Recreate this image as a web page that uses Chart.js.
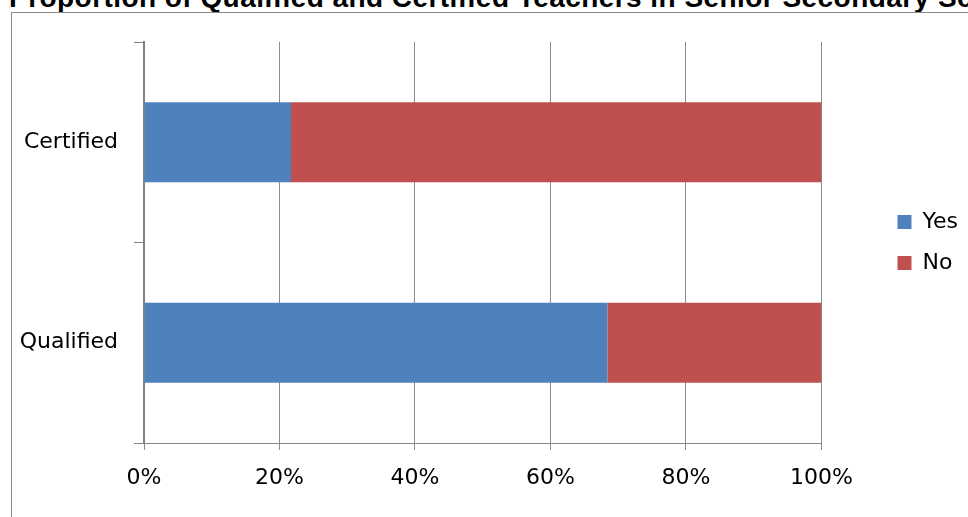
<!DOCTYPE html>
<html>
<head>
<meta charset="utf-8">
<script src="https://cdn.jsdelivr.net/npm/chart.js@4.4.0/dist/chart.umd.min.js"></script>
<style>
    html, body { margin: 0; padding: 0; background: #fff; overflow: hidden; }
    #marco { position: absolute; left: 0; top: 0; width: 968px; height: 517px; overflow: hidden; }
    #titulo {
        position: absolute; left: 9px; top: -18px; line-height: 29px;
        font: bold 28px "Liberation Sans", Arial, sans-serif; color: #000;
        white-space: nowrap; letter-spacing: 0.45px;
    }
    #borde {
        position: absolute; left: 11px; top: 12px; width: 1000px; height: 600px;
        border-left: 1px solid #8a8a8a; border-top: 1px solid #8a8a8a;
    }
</style>
</head>
<body>
<div id="marco">
    <div id="titulo">Proportion of Qualified and Certified Teachers in Senior Secondary Schools</div>
    <div id="borde"></div>
    <canvas id="grafica" width="968" height="517"></canvas>
</div>
<script>
// categorias (de arriba a abajo) y porcentajes de cada serie
const categorias = ["Certified", "Qualified"];
const valoresSi = [21.7, 68.4];
const valoresNo = [78.3, 31.6];
const marcasEjeX = [0, 20, 40, 60, 80, 100];

const grafica = document.getElementById("grafica");
grafica.style.position = "absolute";
grafica.style.left = "0px";
grafica.style.top = "0px";

const fuente = { family: "'DejaVu Sans', sans-serif", size: 22 };

const datos = {
    labels: categorias,
    datasets: [
        {
            label: "Yes",
            data: valoresSi,
            backgroundColor: "#4F81BD",
            borderWidth: 0,
            categoryPercentage: 0.4,
            barPercentage: 1,
        },
        {
            label: "No",
            data: valoresNo,
            backgroundColor: "#C0504D",
            borderWidth: 0,
            categoryPercentage: 0.4,
            barPercentage: 1,
        },
    ],
};

const opciones = {
    indexAxis: "y",
    responsive: false,
    animation: false,
    layout: { padding: { left: 11, top: 42, right: 0, bottom: 0 } },
    scales: {
        x: {
            stacked: true,
            min: 0,
            max: 100,
            afterBuildTicks: (eje) => { eje.ticks = marcasEjeX.map(v => ({ value: v })); },
            afterFit: (eje) => { eje.height = 74; },
            ticks: {
                color: "#000",
                font: fuente,
                padding: 15,
                callback: (v) => v + "%",
            },
            grid: { color: "#8c8c8c", lineWidth: 1, tickLength: 7 },
            border: { color: "#868686", width: 1 },
        },
        y: {
            stacked: true,
            afterFit: (eje) => { eje.width = 133; },
            ticks: { color: "#000", font: fuente, padding: 16 },
            grid: { drawOnChartArea: false, color: "#868686", tickLength: 10, offset: true },
            border: { color: "#808080", width: 2 },
        },
        // eje vacio para dejar hueco entre la grafica y la leyenda
        hueco: {
            type: "linear",
            position: "right",
            display: true,
            afterFit: (eje) => { eje.width = 57; },
            ticks: { display: false },
            grid: { display: false },
            border: { display: false },
        },
    },
    plugins: {
        legend: {
            position: "right",
            fullSize: false,
            labels: {
                color: "#000",
                font: fuente,
                boxWidth: 14,
                boxHeight: 14,
                padding: 19,
            },
        },
        tooltip: { enabled: false },
        title: { display: false },
    },
};

window.miGrafica = new Chart(grafica, { type: "bar", data: datos, options: opciones });
</script>
</body>
</html>
